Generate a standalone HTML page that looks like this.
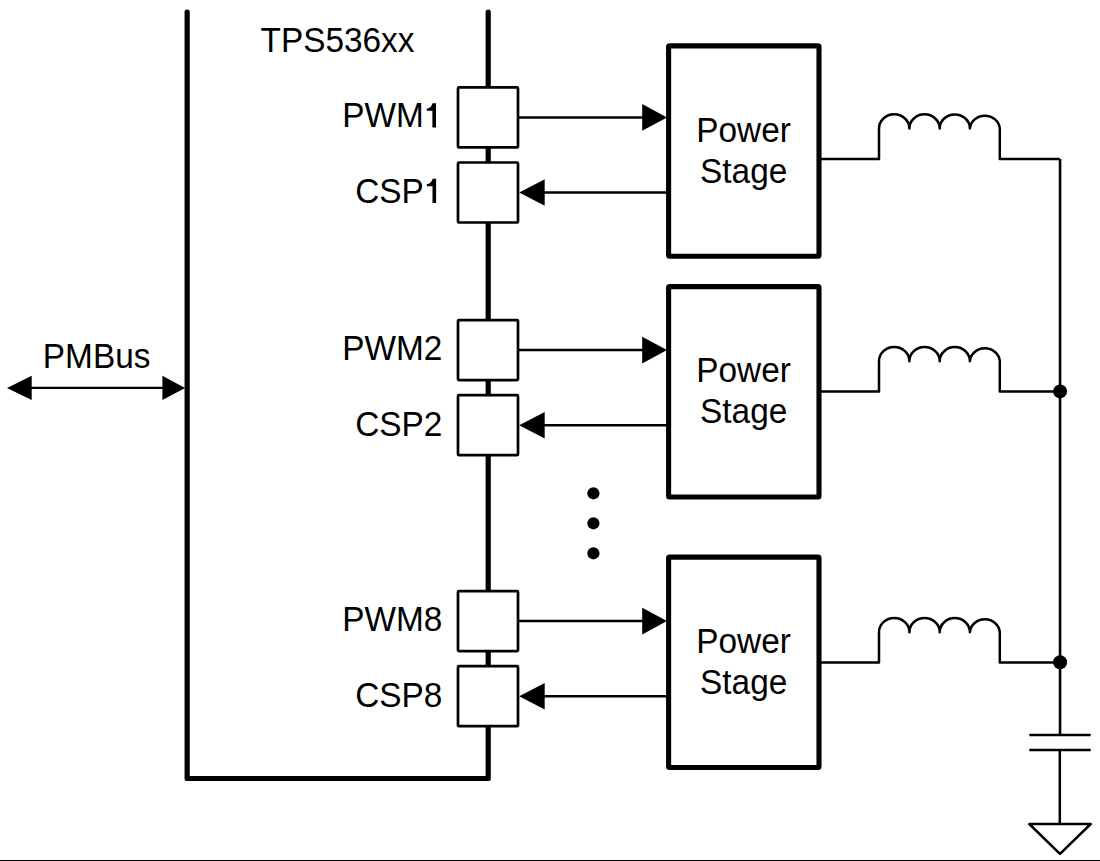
<!DOCTYPE html>
<html><head><meta charset="utf-8"><style>
html,body{margin:0;padding:0;background:#fff;}
svg{display:block;font-family:"Liberation Sans",sans-serif;}
</style></head><body>
<svg width="1100" height="861" viewBox="0 0 1100 861">
<path d="M187.15,12 V778.5 H488.2 V12" fill="none" stroke="#000" stroke-width="5.2" stroke-linecap="round" stroke-linejoin="round"/>
<rect x="458" y="87.4" width="60" height="60" rx="1" fill="#fff" stroke="#000" stroke-width="2.7" stroke-linejoin="round"/>
<rect x="458" y="162.5" width="60" height="60" rx="1" fill="#fff" stroke="#000" stroke-width="2.7" stroke-linejoin="round"/>
<path d="M518,117.4 H645" stroke="#000" stroke-width="2.5" fill="none"/>
<path d="M642.2,104.1 L667,117.4 L642.2,130.7 Z" fill="#000"/>
<path d="M668.9,192.5 H542" stroke="#000" stroke-width="2.5" fill="none"/>
<path d="M544.7,179.2 L519.2,192.5 L544.7,205.8 Z" fill="#000"/>
<rect x="668.6" y="45.9" width="150.4" height="210.4" rx="1" fill="none" stroke="#000" stroke-width="5.1" stroke-linejoin="round"/>
<path d="M819,158.9 H879 V128.5 A15,14 0 0 1 909.4,128.5 A15,14 0 0 1 939.7,128.5 A15,14 0 0 1 969.9,128.5 A15,14 0 0 1 999.8,128.5 V158.9 H1059.8" fill="none" stroke="#000" stroke-width="2.5" stroke-linejoin="round"/>
<text transform="translate(423.82,127.40) scale(1,1.075)" text-anchor="end" font-size="33.4">PWM</text>
<text transform="translate(423.82,202.80) scale(1,1.075)" text-anchor="end" font-size="33.4">CSP</text>
<path d="M436.00,127.40 H432.40 V110.70 H426.80 V108.50 Q430.80,108.40 432.60,103.20 H436.00 Z" fill="#000"/>
<path d="M436.10,202.90 H432.50 V186.20 H426.90 V184.00 Q430.90,183.90 432.70,178.70 H436.10 Z" fill="#000"/>
<text transform="translate(743.60,141.50) scale(1,1.05)" text-anchor="middle" font-size="33.4">Power</text>
<text transform="translate(743.70,182.70) scale(1,1.075)" text-anchor="middle" font-size="33.4">Stage</text>
<rect x="458" y="320.1" width="60" height="60" rx="1" fill="#fff" stroke="#000" stroke-width="2.7" stroke-linejoin="round"/>
<rect x="458" y="395.2" width="60" height="60" rx="1" fill="#fff" stroke="#000" stroke-width="2.7" stroke-linejoin="round"/>
<path d="M518,350.1 H645" stroke="#000" stroke-width="2.5" fill="none"/>
<path d="M642.2,336.8 L667,350.1 L642.2,363.4 Z" fill="#000"/>
<path d="M668.9,425.2 H542" stroke="#000" stroke-width="2.5" fill="none"/>
<path d="M544.7,411.9 L519.2,425.2 L544.7,438.5 Z" fill="#000"/>
<rect x="668.6" y="286.6" width="150.4" height="210.4" rx="1" fill="none" stroke="#000" stroke-width="5.1" stroke-linejoin="round"/>
<path d="M819,391.6 H879 V361.2 A15,14 0 0 1 909.4,361.2 A15,14 0 0 1 939.7,361.2 A15,14 0 0 1 969.9,361.2 A15,14 0 0 1 999.8,361.2 V391.6 H1059.8" fill="none" stroke="#000" stroke-width="2.5" stroke-linejoin="round"/>
<text transform="translate(442.40,360.10) scale(1,1.075)" text-anchor="end" font-size="33.4">PWM2</text>
<text transform="translate(442.40,435.50) scale(1,1.075)" text-anchor="end" font-size="33.4">CSP2</text>
<text transform="translate(743.60,382.20) scale(1,1.05)" text-anchor="middle" font-size="33.4">Power</text>
<text transform="translate(743.70,423.40) scale(1,1.075)" text-anchor="middle" font-size="33.4">Stage</text>
<rect x="458" y="591.1" width="60" height="60" rx="1" fill="#fff" stroke="#000" stroke-width="2.7" stroke-linejoin="round"/>
<rect x="458" y="666.2" width="60" height="60" rx="1" fill="#fff" stroke="#000" stroke-width="2.7" stroke-linejoin="round"/>
<path d="M518,621.1 H645" stroke="#000" stroke-width="2.5" fill="none"/>
<path d="M642.2,607.8 L667,621.1 L642.2,634.4 Z" fill="#000"/>
<path d="M668.9,696.2 H542" stroke="#000" stroke-width="2.5" fill="none"/>
<path d="M544.7,682.9 L519.2,696.2 L544.7,709.5 Z" fill="#000"/>
<rect x="668.6" y="557.1" width="150.4" height="210.4" rx="1" fill="none" stroke="#000" stroke-width="5.1" stroke-linejoin="round"/>
<path d="M819,662.6 H879 V632.2 A15,14 0 0 1 909.4,632.2 A15,14 0 0 1 939.7,632.2 A15,14 0 0 1 969.9,632.2 A15,14 0 0 1 999.8,632.2 V662.6 H1059.8" fill="none" stroke="#000" stroke-width="2.5" stroke-linejoin="round"/>
<text transform="translate(442.40,631.10) scale(1,1.075)" text-anchor="end" font-size="33.4">PWM8</text>
<text transform="translate(442.40,706.50) scale(1,1.075)" text-anchor="end" font-size="33.4">CSP8</text>
<text transform="translate(743.60,652.70) scale(1,1.05)" text-anchor="middle" font-size="33.4">Power</text>
<text transform="translate(743.70,693.90) scale(1,1.075)" text-anchor="middle" font-size="33.4">Stage</text>
<path d="M1060.05,158.9 V734.9" stroke="#000" stroke-width="2.6" fill="none"/>
<circle cx="1060.1" cy="391.4" r="7.0" fill="#000"/>
<circle cx="1060.1" cy="662.3" r="7.0" fill="#000"/>
<path d="M1029.3,734.9 H1090.7 M1029.3,750 H1090.7" stroke="#000" stroke-width="2.5" fill="none"/>
<path d="M1059.8,750 V824" stroke="#000" stroke-width="2.5" fill="none"/>
<path d="M1029.3,824 H1090.7 L1060,853.9 Z" fill="none" stroke="#000" stroke-width="2.5" stroke-linejoin="round"/>
<circle cx="593.4" cy="493.3" r="6.1" fill="#000"/>
<circle cx="593.4" cy="523.3" r="6.1" fill="#000"/>
<circle cx="593.4" cy="553.3" r="6.1" fill="#000"/>
<path d="M30,387.9 H164" stroke="#000" stroke-width="2.1" fill="none"/>
<path d="M7.0,387.9 L31.7,375.7 L31.7,400.1 Z M185.1,387.9 L162.4,375.7 L162.4,400.1 Z" fill="#000"/>
<text transform="translate(96.60,368.30) scale(1,1.075)" text-anchor="middle" font-size="33.4">PMBus</text>
<text transform="translate(337.50,52.30) scale(1,1.075)" text-anchor="middle" font-size="33.4">TPS536xx</text>
<rect x="0" y="860" width="1100" height="1" fill="#000"/>
</svg>
</body></html>
